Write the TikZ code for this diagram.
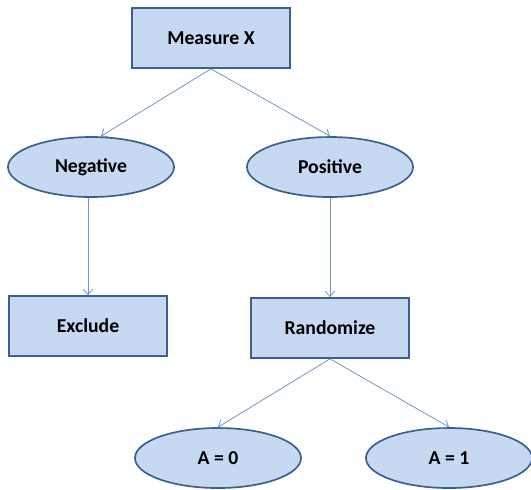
\documentclass[tikz,border=0pt]{standalone}
\usepackage{fontspec}
\setmainfont{Carlito}
\usetikzlibrary{arrows.meta, positioning, shapes.geometric}
\definecolor{boxFill}{HTML}{C6D9F1}
\definecolor{boxEdge}{HTML}{3B5F8E}
\definecolor{linkBlue}{HTML}{6E93C6}

\begin{document}
\begin{tikzpicture}[
    x=0.025cm, y=-0.025cm,
    stepbox/.style={rectangle, draw=boxEdge, fill=boxFill, line width=1.2pt,
                 minimum width=3.95cm, minimum height=1.5cm, inner sep=0pt,
                 font=\fontsize{14}{16}\selectfont\bfseries},
    outcome/.style={ellipse, draw=boxEdge, fill=boxFill, line width=1.2pt,
                 minimum width=4.15cm, minimum height=1.5cm, inner sep=0pt,
                 font=\fontsize{14}{16}\selectfont\bfseries},
    link/.style={draw=linkBlue, line width=0.55pt,
                 -{Straight Barb[length=1.4mm, width=2.4mm]}},
  ]
    \useasboundingbox (0,0) rectangle (531,489);

    \node[stepbox] (meas) at (211,38) {Measure X};
    \node[outcome] (neg) at (91,167) {Negative};
    \node[outcome] (pos) at (330,167) {Positive};
    \node[stepbox] (excl) at (88,326) {Exclude};
    \node[stepbox] (rand) at (330,328) {Randomize};
    \node[outcome] (a0) at (218,458) {A = 0};
    \node[outcome] (a1) at (449,458) {A = 1};

    \draw[link] (meas.south) -- ([xshift=0.25cm]neg.north);
    \draw[link] (meas.south) -- (pos.north);
    \draw[link] (excl.north |- neg.south) -- (excl.north);
    \draw[link] (pos.south) -- (rand.north);
    \draw[link] (rand.south) -- (a0.north);
    \draw[link] (rand.south) -- (a1.north);
  \end{tikzpicture}
\end{document}
